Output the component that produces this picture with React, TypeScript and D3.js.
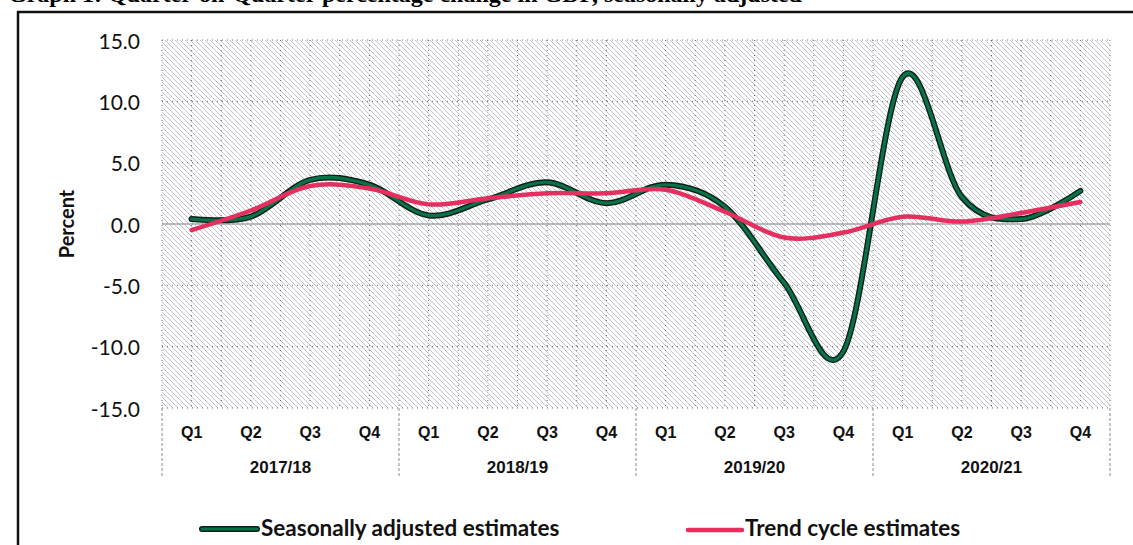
import React from "react";
import * as d3 from "d3";

const quarters = ["Q1", "Q2", "Q3", "Q4"];
const years = ["2017/18", "2018/19", "2019/20", "2020/21"];
const seasonallyAdjusted = [0.4, 0.6, 3.6, 3.2, 0.7, 2.0, 3.4, 1.7, 3.2, 1.4, -4.8, -10.4, 12.0, 2.2, 0.4, 2.7];
const trendCycle = [-0.5, 1.1, 3.1, 2.9, 1.6, 2.1, 2.5, 2.5, 2.8, 1.0, -1.1, -0.7, 0.6, 0.2, 0.9, 1.8];
const yTicks = [-15, -10, -5, 0, 5, 10, 15];
const titleText = "Graph 1: Quarter-on-Quarter percentage change in GDP, seasonally adjusted";
const legendLabels = ["Seasonally adjusted estimates", "Trend cycle estimates"];

const W = 1133;
const H = 545;
const plot = { left: 162, right: 1110, top: 40, bottom: 408 };

export default function App() {
  const idx = d3.range(seasonallyAdjusted.length);
  const x = d3.scaleBand<number>().domain(idx).range([plot.left, plot.right]).padding(0);
  const y = d3.scaleLinear().domain([-15, 15]).range([plot.bottom, plot.top]);
  const bw = x.bandwidth();
  const cx = (i: number) => (x(i) as number) + bw / 2;

  const line = d3
    .line<number>()
    .x((_, i) => cx(i))
    .y((v) => y(v))
    .curve(d3.curveCatmullRom.alpha(0));

  const halfGrid: number[] = [];
  idx.forEach((i) => {
    halfGrid.push(x(i) as number);
    halfGrid.push(cx(i));
  });
  halfGrid.push(plot.right);

  const yearBounds = d3.range(years.length + 1).map((k) => plot.left + k * 4 * bw);
  const fmt = (v: number) => d3.format(".1f")(v).replace("\u2212", "-");

  const sansNum = "Lato, 'Open Sans', sans-serif";
  const arial = "'Liberation Sans', Arial, sans-serif";

  return (
    <svg
      width={W}
      height={H}
      style={{ position: "absolute", left: 0, top: 0, background: "#fff" }}
    >
      <defs>
        <pattern id="hatch" patternUnits="userSpaceOnUse" width="5" height="5">
          <path d="M-1,-1 L6,6 M-1,4 L1,6 M4,-1 L6,1" stroke="#c2c2cc" strokeWidth="1" />
        </pattern>
        <clipPath id="plotClip">
          <rect x={plot.left} y={plot.top - 10} width={plot.right - plot.left + 10} height={plot.bottom - plot.top + 20} />
        </clipPath>
      </defs>

      {/* title, clipped at the top edge as in the scan */}
      <text
        x={8}
        y={2}
        fontFamily="'Liberation Serif', 'Times New Roman', serif"
        fontWeight="bold"
        fontSize={24}
        fill="#000"
      >
        {titleText}
      </text>

      {/* frame */}
      <line x1={17} x2={W} y1={12} y2={12} stroke="#111" strokeWidth={2.5} />
      <line x1={18} x2={18} y1={11} y2={H} stroke="#111" strokeWidth={2.5} />

      {/* plot background hatch */}
      <rect
        x={plot.left}
        y={plot.top}
        width={plot.right - plot.left}
        height={plot.bottom - plot.top}
        fill="url(#hatch)"
      />

      {/* vertical dotted grid */}
      {halfGrid.map((gx, i) => (
        <line
          key={"vg" + i}
          x1={gx}
          x2={gx}
          y1={plot.top}
          y2={plot.bottom}
          stroke="#6a6a6a"
          strokeWidth={1}
          strokeDasharray="1 4"
        />
      ))}
      {/* horizontal dotted grid */}
      {yTicks.map((t) => (
        <line
          key={"hg" + t}
          x1={plot.left}
          x2={plot.right}
          y1={y(t)}
          y2={y(t)}
          stroke="#6a6a6a"
          strokeWidth={1}
          strokeDasharray="1 4"
        />
      ))}
      {/* zero line */}
      <line x1={plot.left} x2={plot.right} y1={y(0)} y2={y(0)} stroke="#a8a8b0" strokeWidth={1.6} />

      {/* y tick labels */}
      {yTicks.map((t) => (
        <text
          key={"yt" + t}
          x={140}
          y={y(t)}
          textAnchor="end"
          dominantBaseline="central"
          fontFamily={sansNum}
          fontSize={21}
          fill="#111"
        >
          {fmt(t)}
        </text>
      ))}
      <text
        transform={`translate(74,${y(0)}) rotate(-90)`}
        textAnchor="middle"
        fontFamily={sansNum}
        fontWeight="bold"
        fontSize={20}
        fill="#111"
      >
        Percent
      </text>

      {/* category axis */}
      {yearBounds.map((bx, i) => (
        <line
          key={"yb" + i}
          x1={bx}
          x2={bx}
          y1={plot.bottom}
          y2={477}
          stroke="#8a8a8a"
          strokeWidth={1}
          strokeDasharray="3 2"
        />
      ))}
      {idx.map((i) => (
        <text
          key={"q" + i}
          x={cx(i)}
          y={438}
          textAnchor="middle"
          fontFamily={arial}
          fontWeight="bold"
          fontSize={16}
          fill="#111"
        >
          {quarters[i % 4]}
        </text>
      ))}
      {years.map((yr, k) => (
        <text
          key={"yr" + k}
          x={(yearBounds[k] + yearBounds[k + 1]) / 2}
          y={473}
          textAnchor="middle"
          fontFamily={arial}
          fontWeight="bold"
          fontSize={17}
          fill="#111"
        >
          {yr}
        </text>
      ))}

      {/* series */}
      <g clipPath="url(#plotClip)">
        <path d={line(seasonallyAdjusted) || ""} fill="none" stroke="#0c2118" strokeWidth={6} strokeLinecap="round" />
        <path d={line(seasonallyAdjusted) || ""} fill="none" stroke="#0a7249" strokeWidth={3.2} strokeLinecap="round" />
        <path d={line(trendCycle) || ""} fill="none" stroke="#e52f5e" strokeWidth={4.5} strokeLinecap="round" />
      </g>

      {/* legend */}
      <line x1={202} x2={257} y1={529} y2={529} stroke="#0c2118" strokeWidth={6} strokeLinecap="round" />
      <line x1={202} x2={257} y1={529} y2={529} stroke="#0a7249" strokeWidth={3.2} strokeLinecap="round" />
      <text x={261} y={536} fontFamily={sansNum} fontWeight="bold" fontSize={22.5} fill="#111">
        {legendLabels[0]}
      </text>
      <line x1={688} x2={742} y1={530} y2={530} stroke="#e52f5e" strokeWidth={4.5} strokeLinecap="round" />
      <text x={745} y={536} fontFamily={sansNum} fontWeight="bold" fontSize={22.5} fill="#111">
        {legendLabels[1]}
      </text>
    </svg>
  );
}
